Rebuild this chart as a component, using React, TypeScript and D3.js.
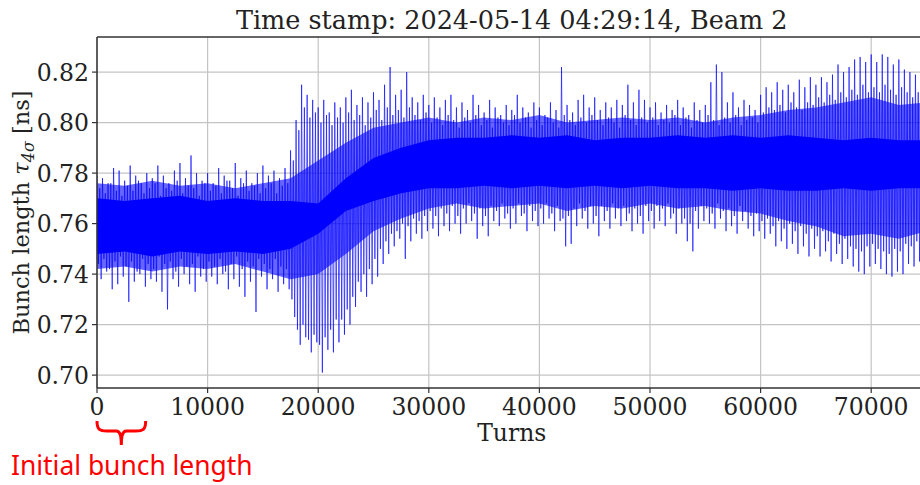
import React from "react";
import * as d3 from "d3";

// bunch length per 500-turn bin [ns]: extremes (high/low) and secondary swings (midHigh/midLow)
const BIN = 500;
const binHigh = [
  0.779, 0.778, 0.776, 0.782, 0.781, 0.777, 0.783, 0.779, 0.776, 0.78,
  0.778, 0.783, 0.779, 0.776, 0.781, 0.784, 0.778, 0.787, 0.78, 0.777,
  0.78, 0.776, 0.782, 0.779, 0.777, 0.784, 0.778, 0.781, 0.776, 0.78,
  0.783, 0.779, 0.781, 0.778, 0.782, 0.789, 0.801, 0.815, 0.811, 0.809,
  0.806, 0.809, 0.804, 0.808, 0.806, 0.81, 0.813, 0.807, 0.81, 0.808,
  0.812, 0.809, 0.815, 0.822, 0.811, 0.813, 0.82, 0.81, 0.808, 0.811,
  0.807, 0.81, 0.806, 0.809, 0.811, 0.806, 0.808, 0.805, 0.811, 0.807,
  0.804, 0.809, 0.806, 0.803, 0.807, 0.805, 0.811, 0.806, 0.804, 0.808,
  0.806, 0.803, 0.808, 0.805, 0.822, 0.807, 0.804, 0.809, 0.811, 0.806,
  0.81, 0.805, 0.808, 0.806, 0.809, 0.807, 0.815, 0.808, 0.813, 0.809,
  0.806, 0.808, 0.804, 0.807, 0.805, 0.809, 0.806, 0.803, 0.808, 0.805,
  0.807, 0.816, 0.823, 0.82, 0.808, 0.812, 0.806, 0.809, 0.807, 0.805,
  0.811, 0.814, 0.812, 0.816, 0.813, 0.815, 0.812, 0.817, 0.814, 0.818,
  0.815, 0.818, 0.816, 0.819, 0.823, 0.82, 0.822, 0.825, 0.826, 0.824,
  0.827, 0.824, 0.827, 0.826, 0.823, 0.825, 0.821, 0.82, 0.819, 0.821,
];
const binLow = [
  0.738, 0.741, 0.734, 0.736, 0.739, 0.729, 0.737, 0.74, 0.735, 0.738,
  0.737, 0.733, 0.726, 0.738, 0.735, 0.74, 0.736, 0.733, 0.739, 0.737,
  0.739, 0.736, 0.74, 0.734, 0.738, 0.735, 0.731, 0.737, 0.725, 0.739,
  0.734, 0.738, 0.733, 0.736, 0.734, 0.723, 0.712, 0.715, 0.709, 0.713,
  0.701, 0.71, 0.709, 0.713, 0.716, 0.72, 0.727, 0.733, 0.731, 0.736,
  0.739, 0.744, 0.748, 0.751, 0.754, 0.746, 0.753, 0.756, 0.754, 0.757,
  0.758, 0.755, 0.759, 0.757, 0.76, 0.756, 0.76, 0.761, 0.754, 0.759,
  0.755, 0.761, 0.759, 0.762, 0.758, 0.76, 0.763, 0.757, 0.761, 0.759,
  0.76, 0.762, 0.757, 0.761, 0.751, 0.752, 0.759, 0.762, 0.758, 0.76,
  0.755, 0.761, 0.758, 0.762, 0.759, 0.761, 0.757, 0.76, 0.756, 0.761,
  0.758, 0.761, 0.759, 0.762, 0.756, 0.76, 0.753, 0.749, 0.758, 0.761,
  0.76, 0.758, 0.762, 0.757, 0.759, 0.756, 0.761, 0.758, 0.755, 0.757,
  0.754, 0.756, 0.751, 0.753, 0.75, 0.752, 0.748, 0.751, 0.747, 0.75,
  0.747, 0.749, 0.745, 0.748, 0.744, 0.746, 0.743, 0.741, 0.74, 0.743,
  0.744, 0.742, 0.74, 0.739, 0.741, 0.74, 0.744, 0.743, 0.745, 0.742,
];
const midHigh = [
  0.774, 0.772, 0.776, 0.773, 0.771, 0.775, 0.773, 0.777, 0.772, 0.774,
  0.776, 0.771, 0.774, 0.773, 0.777, 0.772, 0.775, 0.774, 0.771, 0.776,
  0.773, 0.775, 0.772, 0.777, 0.774, 0.771, 0.776, 0.773, 0.775, 0.772,
  0.774, 0.776, 0.772, 0.775, 0.776, 0.785, 0.797, 0.806, 0.802, 0.804,
  0.8, 0.803, 0.799, 0.802, 0.8, 0.804, 0.801, 0.803, 0.799, 0.802,
  0.805, 0.801, 0.806, 0.803, 0.805, 0.802, 0.806, 0.803, 0.801, 0.804,
  0.8, 0.802, 0.799, 0.803, 0.801, 0.798, 0.802, 0.8, 0.803, 0.799,
  0.801, 0.798, 0.802, 0.8, 0.799, 0.803, 0.8, 0.802, 0.798, 0.801,
  0.799, 0.802, 0.8, 0.798, 0.803, 0.801, 0.799, 0.802, 0.8, 0.803,
  0.801, 0.799, 0.802, 0.8, 0.798, 0.803, 0.801, 0.799, 0.802, 0.8,
  0.802, 0.799, 0.801, 0.8, 0.803, 0.799, 0.802, 0.798, 0.801, 0.8,
  0.803, 0.801, 0.799, 0.802, 0.8, 0.803, 0.799, 0.801, 0.802, 0.8,
  0.804, 0.806, 0.805, 0.807, 0.804, 0.808, 0.806, 0.805, 0.808, 0.807,
  0.81, 0.808, 0.811, 0.809, 0.812, 0.81, 0.813, 0.811, 0.815, 0.812,
  0.814, 0.812, 0.815, 0.813, 0.811, 0.814, 0.812, 0.81, 0.812, 0.811,
];
const midLow = [
  0.744, 0.746, 0.742, 0.745, 0.747, 0.743, 0.745, 0.741, 0.746, 0.744,
  0.742, 0.747, 0.744, 0.745, 0.741, 0.746, 0.743, 0.744, 0.747, 0.742,
  0.745, 0.743, 0.746, 0.741, 0.744, 0.747, 0.742, 0.745, 0.743, 0.746,
  0.744, 0.742, 0.746, 0.743, 0.742, 0.73, 0.718, 0.72, 0.714, 0.716,
  0.712, 0.715, 0.718, 0.722, 0.722, 0.726, 0.731, 0.737, 0.74, 0.742,
  0.746, 0.75, 0.753, 0.756, 0.757, 0.76, 0.759, 0.762, 0.761, 0.763,
  0.765, 0.763, 0.766, 0.764, 0.767, 0.763, 0.766, 0.768, 0.764, 0.766,
  0.763, 0.767, 0.765, 0.768, 0.764, 0.766, 0.768, 0.764, 0.767, 0.765,
  0.766, 0.768, 0.764, 0.767, 0.762, 0.763, 0.766, 0.768, 0.765, 0.767,
  0.763, 0.767, 0.765, 0.768, 0.766, 0.767, 0.764, 0.766, 0.763, 0.767,
  0.765, 0.767, 0.766, 0.768, 0.764, 0.766, 0.762, 0.76, 0.765, 0.767,
  0.766, 0.764, 0.768, 0.765, 0.766, 0.763, 0.767, 0.765, 0.763, 0.764,
  0.761, 0.762, 0.759, 0.761, 0.758, 0.76, 0.757, 0.759, 0.756, 0.758,
  0.755, 0.757, 0.753, 0.756, 0.752, 0.754, 0.751, 0.75, 0.749, 0.751,
  0.752, 0.75, 0.749, 0.748, 0.75, 0.749, 0.752, 0.751, 0.753, 0.75,
];

// envelopes of the dense part of the trace, every 2500 turns
const bandTurns = [
  0, 2500, 5000, 7500, 10000, 12500, 15000, 17500, 20000, 22500, 25000,
  27500, 30000, 32500, 35000, 37500, 40000, 42500, 45000, 47500, 50000,
  52500, 55000, 57500, 60000, 62500, 65000, 67500, 70000, 72500, 75000,
];
const fringeHigh = [
  0.776, 0.775, 0.777, 0.775, 0.776, 0.774, 0.776, 0.778, 0.785, 0.792, 0.798,
  0.8, 0.802, 0.8, 0.802, 0.801, 0.803, 0.8, 0.801, 0.802, 0.801,
  0.802, 0.8, 0.802, 0.803, 0.805, 0.806, 0.808, 0.81, 0.807, 0.808,
];
const fringeLow = [
  0.742, 0.743, 0.741, 0.743, 0.742, 0.744, 0.741, 0.738, 0.74, 0.748, 0.757,
  0.762, 0.766, 0.768, 0.766, 0.767, 0.768, 0.765, 0.767, 0.766, 0.768,
  0.766, 0.767, 0.765, 0.764, 0.761, 0.759, 0.755, 0.756, 0.754, 0.757,
];
const coreHigh = [
  0.77, 0.769, 0.77, 0.771, 0.769, 0.77, 0.769, 0.769, 0.768, 0.778, 0.786,
  0.79, 0.793, 0.794, 0.794, 0.795, 0.794, 0.795, 0.793, 0.794, 0.794,
  0.795, 0.794, 0.795, 0.794, 0.795, 0.794, 0.793, 0.794, 0.793, 0.793,
];
const coreLow = [
  0.748, 0.749, 0.747, 0.749, 0.748, 0.749, 0.748, 0.75, 0.756, 0.765, 0.769,
  0.772, 0.774, 0.774, 0.775, 0.774, 0.775, 0.774, 0.775, 0.774, 0.775,
  0.774, 0.774, 0.773, 0.774, 0.773, 0.773, 0.774, 0.773, 0.774, 0.774,
];

const xTicks = [0, 10000, 20000, 30000, 40000, 50000, 60000, 70000];
const yTicks = [0.7, 0.72, 0.74, 0.76, 0.78, 0.8, 0.82];
const initialRange = [0, 4400];

const W = 920;
const H = 485;
const left = 97;
const right = 926.5;
const top = 37;
const bottom = 388;

export default function App() {
  const x = d3.scaleLinear().domain([0, 75000]).range([left, right]);
  const y = d3.scaleLinear().domain([0.6949, 0.8339]).range([bottom, top]);

  const turns = d3.range(0, binHigh.length * BIN, BIN);
  const pts: [number, number][] = [];
  turns.forEach((t, i) => {
    pts.push([x(t), y(binHigh[i])]);
    pts.push([x(t + BIN / 4), y(midLow[i])]);
    pts.push([x(t + BIN / 2), y(midHigh[i])]);
    pts.push([x(t + (3 * BIN) / 4), y(binLow[i])]);
  });
  const trace = d3.line()(pts) || "";

  const band = (lo: number[], hi: number[]) =>
    d3
      .area<number>()
      .x((t) => x(t))
      .y0((_, i) => y(lo[i]))
      .y1((_, i) => y(hi[i]))(bandTurns) || "";

  const bx0 = x(initialRange[0]);
  const bx1 = x(initialRange[1]);
  const bm = (bx0 + bx1) / 2;
  const brace = `M${bx0},421 C${bx0},430 ${bx0 + 3},431 ${bx0 + 10},431 L${bm - 5},431 C${bm - 1},431 ${bm},436 ${bm},445 C${bm},436 ${bm + 1},431 ${bm + 5},431 L${bx1 - 10},431 C${bx1 - 3},431 ${bx1},430 ${bx1},421`;

  return (
    <svg
      width={W}
      height={H}
      style={{ position: "absolute", left: 0, top: 0, background: "#fff" }}
    >
      <defs>
        <clipPath id="plot">
          <rect x={left} y={top} width={right - left} height={bottom - top} />
        </clipPath>
      </defs>

      {/* grid */}
      <g stroke="#c4c4c4" strokeWidth={1.2}>
        {xTicks.map((t) => (
          <line key={"gx" + t} x1={x(t)} x2={x(t)} y1={top} y2={bottom} />
        ))}
        {yTicks.map((t) => (
          <line key={"gy" + t} x1={left} x2={right} y1={y(t)} y2={y(t)} />
        ))}
      </g>

      <g clipPath="url(#plot)">
        <path d={band(fringeLow, fringeHigh)} fill="#0000ff" fillOpacity={0.6} />
        <path d={band(coreLow, coreHigh)} fill="#0000ff" />
        <path d={trace} fill="none" stroke="#0000ff" strokeWidth={0.7} strokeOpacity={0.9} />
      </g>

      {/* spines */}
      <g stroke="#333" strokeWidth={1.5} fill="none">
        <line x1={left} x2={left} y1={top} y2={bottom} />
        <line x1={left} x2={right} y1={top} y2={top} />
        <line x1={left} x2={right} y1={bottom} y2={bottom} />
      </g>

      {/* ticks */}
      <g stroke="#333" strokeWidth={1.2}>
        {xTicks.map((t) => (
          <line key={"tx" + t} x1={x(t)} x2={x(t)} y1={bottom} y2={bottom + 5} />
        ))}
        {yTicks.map((t) => (
          <line key={"ty" + t} x1={left - 5} x2={left} y1={y(t)} y2={y(t)} />
        ))}
      </g>

      <g style={{ fontFamily: "DejaVu Serif, serif" }} fontSize={23.5} fill="#222">
        {xTicks.map((t) => (
          <text key={"lx" + t} x={x(t)} y={415} textAnchor="middle">
            {t}
          </text>
        ))}
        {yTicks.map((t) => (
          <text key={"ly" + t} x={89} y={y(t) + 8.5} textAnchor="end">
            {t.toFixed(2)}
          </text>
        ))}
        <text x={(left + right) / 2} y={441} textAnchor="middle">
          Turns
        </text>
        <text
          transform={`translate(29,${(top + bottom) / 2}) rotate(-90)`}
          textAnchor="middle"
          fontSize={22.5}
        >
          Bunch length <tspan fontStyle="italic">τ</tspan>
          <tspan fontSize={16} dy={5} fontStyle="italic">4σ</tspan>
          <tspan dy={-5}> [ns]</tspan>
        </text>
        <text x={(left + right) / 2} y={29} textAnchor="middle" fontSize={25.5}>
          Time stamp: 2024-05-14 04:29:14, Beam 2
        </text>
      </g>

      {/* annotation */}
      <path d={brace} fill="none" stroke="#ff0000" strokeWidth={3} />
      <text x={11} y={475} fontFamily="'Noto Sans', sans-serif" fontSize={26.4} fill="#ff0000">
        Initial bunch length
      </text>
    </svg>
  );
}
